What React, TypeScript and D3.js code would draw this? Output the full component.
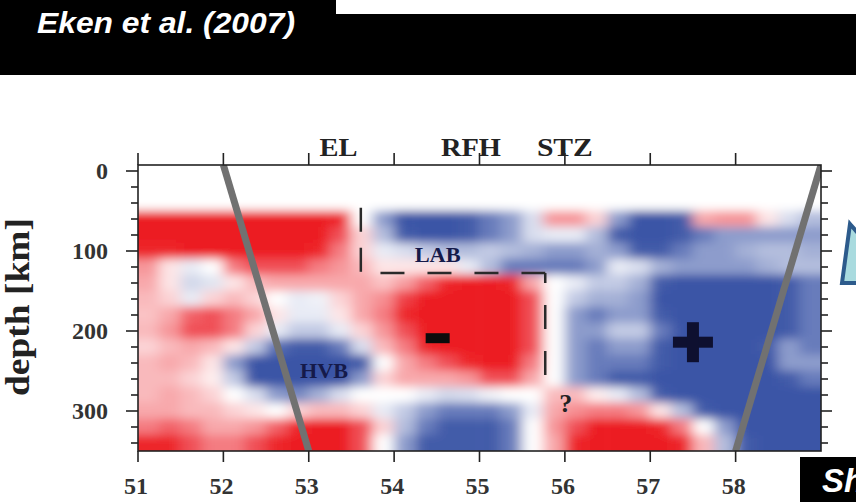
import React from "react";
import * as d3 from "d3";

// ---------- data ----------
const LON_TICKS = [51, 52, 53, 54, 55, 56, 57, 58];
const DEPTH_LABELS = [0, 100, 200, 300];
const DEPTH_TICKS = [0, 20, 40, 60, 80, 100, 120, 140, 160, 180, 200, 220, 240, 260, 280, 300, 320, 340];
const TOP_LABELS = ["EL", "RFH", "STZ"];
const TOP_LABEL_LON = [53.35, 54.9, 56.0];
const TOP_LABEL_LEN = [38, 60, 56];

// grid cell centres
const CELL_LON = [51.125, 51.375, 51.625, 51.875, 52.125, 52.375, 52.625, 52.875, 53.125, 53.375, 53.625, 53.875, 54.125, 54.375, 54.625, 54.875,
  55.125, 55.375, 55.625, 55.875, 56.125, 56.375, 56.625, 56.875, 57.125, 57.375, 57.625, 57.875, 58.125, 58.375, 58.625, 58.875];
const CELL_DEPTH = [0, 20, 40, 60, 80, 100, 120, 140, 160, 180, 200, 220, 240, 260, 280, 300, 320, 340];

// velocity perturbation (-3 strong red / slow ... +3 strong blue / fast)
const DV_ROWS = [
  [0, 0, 0, 0, 0, 0, 0, 0, 0, 0, 0, 0, 0, 0, 0, 0, 0, 0, 0, 0, 0, 0, 0, 0, 0, 0, 0, 0, 0, 0, 0, 0],
  [0, 0, 0, 0, 0, 0, 0, 0, 0, 0, 0, 0, 0, 0, 0, 0, 0, 0, 0, 0, 0, 0, 0, 0, 0, 0, 0, 0, 0, 0, 0, 0],
  [0, 0, 0, 0, 0, 0, 0, 0, 0, 0, 0, 0, 0, 0, 0, 0, 0, 0, 0, 0, 0, 0, 0, 0, 0, 0, 0, 0, 0, 0, 0, 0],
  [-3, -3, -3, -3, -3, -3, -3, -3, -3, -2.5, 0, 1.5, 3, 3, 3, 2.5, 2, 1.5, 0.5, -1.2, -1.2, -0.5, 1.5, 3, 3, 2.5, -1, -1.2, -1.2, -0.3, 0.5, 1],
  [-3, -3, -3, -3, -3, -3, -3, -3, -3, -2, -0.5, 1, 2.5, 3, 3, 2.5, 2, 1.5, 0.5, 0.3, 0.3, 1, 2.5, 3, 3, 2.5, 2, 1.5, 1.5, 1.5, 1.5, 1.5],
  [-2.5, -2.5, -3, -3, -3, -3, -3, -3, -2.5, -1.5, -0.5, 0.3, 0.5, 0.8, 1, 1, 0.8, 1, 1.2, 1.5, 1.5, 1.2, 1.5, 2.5, 2.5, 2, 1.5, 1.5, 1.2, 1, 1, 1.2],
  [-1.2, -0.3, 0.3, 0, -1.5, -2, -2, -2, -1.5, -1.2, -0.8, -0.3, -0.3, -0.3, -0.3, 0.3, 1, 2, 2, 2, 2, 1.5, 0.3, 0.5, 1.2, 1.5, 1.5, 1.5, 1.5, 1.2, 1, 1],
  [-1, -0.3, 0.6, 0.4, -0.3, -0.8, -1, -1, -1, -1, -1, -0.7, -1.1, -1.8, -2.5, -3, -3, -2.5, -1, 0, 0.3, 0.8, 0.8, 1.2, 2.5, 3, 3, 3, 3, 3, 2.5, 2],
  [-0.8, -0.5, 0.3, -0.5, -0.8, -0.5, 0, 0.3, 0.2, -0.5, -1, -1.3, -2.2, -3, -3, -3, -3, -3, -2, 0, 0.8, 1.2, 1.2, 1.5, 3, 3, 3, 3, 3, 3, 2.5, 2],
  [-0.7, -1, -1.8, -2, -1.5, -1, -0.3, 0.3, 0.3, -0.3, -1, -1.5, -2.5, -3, -3, -3, -3, -3, -2, 0, 1.5, 2, 1.5, 1.5, 2.5, 3, 3, 3, 3, 3, 2.5, 2],
  [-0.8, -1.2, -2, -2, -1.5, -0.5, 0.3, 0.8, 0.8, 0.3, -0.5, -1.2, -2, -3, -3, -3, -3, -3, -2, 0, 1.5, 1.5, 0.8, 0.8, 2, 3, 3, 3, 3, 3, 2.5, 2],
  [-0.5, -0.8, -1, -0.8, -0.3, 0.8, 2.2, 2.5, 2.5, 2, 0.5, -0.8, -1.5, -2.5, -3, -3, -3, -3, -2, 0, 1.5, 2, 1.5, 1.5, 2.5, 3, 3, 3, 3, 2.5, 1.5, 2],
  [-0.8, -1, -0.8, -0.3, 1.5, 3, 3, 3, 3, 3, 2.5, 0, -1, -1.5, -2, -2.5, -3, -3, -1.5, 0, 1.5, 2, 2, 2, 2.5, 3, 3, 3, 3, 3, 1.5, 1.5],
  [-0.8, -0.8, -0.5, -0.2, 0.8, 3, 3, 3, 3, 3, 1.5, -0.5, -1, -1, -1, -1.2, -2, -2, -1, 0, 1.5, 2, 2.5, 2.5, 3, 3, 3, 3, 3, 3, 2.5, 2],
  [-0.8, -1, -0.8, -0.5, 0, 0.5, 1.5, 1.8, 1.2, 0.5, 0, 0, 0, 0.3, 0.6, 0.5, 0.2, 0, 0, -0.8, -0.8, -0.2, 0.3, 1, 2.5, 3, 3, 3, 3, 3, 3, 3],
  [-1, -1, -0.8, -0.8, -0.5, -0.3, 0, -0.5, -0.8, -0.8, -0.5, 0.3, 0.8, 1.5, 2, 2, 2, 1.5, 0.3, -1, -1.3, -1.5, -1.5, -1.2, -0.3, 1, 2.5, 3, 3, 3, 3, 3],
  [-1.5, -1.8, -1.5, -1, -1, -1.2, -1.8, -2.5, -3, -3, -2, -0.5, 1, 2, 2.5, 2.5, 2.5, 2, 0, -1.2, -2, -3, -3, -3, -2.5, -1.5, 0, 1.5, 3, 3, 3, 3],
  [-2.5, -2.5, -2, -1.5, -1.5, -2, -2.5, -3, -3, -3, -2, 0, 1.5, 2.5, 2.5, 2.5, 2.5, 2, 0, -1, -2.5, -3, -3, -3, -3, -2.5, -0.8, 1, 2.5, 3, 3, 3],
];

// grey slab lines [lonTop, depthTop, lonBottom, depthBottom]
const SLAB_LINES = [
  [52.0, -7.5, 53.0, 350],
  [59.0, -7.5, 58.0, 350],
];
// dashed box annotation (lon, depth)
const DASH_V1 = [53.61, 46, 53.61, 126];
const DASH_H = [53.84, 127.5, 55.77, 127.5];
const DASH_V2 = [55.77, 127.5, 55.77, 257.5];

const NOTES = [
  { text: "LAB", lon: 54.51, depth: 114, size: 22, len: 46 },
  { text: "HVB", lon: 53.18, depth: 259, size: 22, len: 48 },
  { text: "?", lon: 56.01, depth: 301, size: 26, len: 0 },
];
const MINUS_POS = [54.51, 209];
const PLUS_POS = [57.5, 214];

// ---------- layout ----------
const W = 856, H = 502;
const DEPTH_TOP = -7.5;
const DEPTH_BOTTOM = 350;

const x = d3.scaleLinear().domain([51, 59]).range([138, 821]);
const y = d3.scaleLinear().domain([0, 350]).range([171, 451]);

const redI = d3.interpolateRgb("#ffffff", "#ec1c24");
const blueI = d3.interpolateRgb("#ffffff", "#3a54a6");
const SAT = 2.6;
const color = (v: number) => (v < 0 ? redI(Math.min(1, -v / SAT)) : blueI(Math.min(1, v / SAT)));

const SERIF = "'Liberation Serif', 'DejaVu Serif', serif";
const SANS = "'Liberation Sans', Arial, sans-serif";

export default function App() {
  const left = x(51), right = x(59), top = y(DEPTH_TOP), bottom = y(DEPTH_BOTTOM);
  const halfLon = 0.125, halfDepth = 10;

  const cells: JSX.Element[] = [];
  DV_ROWS.forEach((row, r) => {
    row.forEach((v, c) => {
      let x0 = x(CELL_LON[c] - halfLon), x1 = x(CELL_LON[c] + halfLon);
      let y0 = y(CELL_DEPTH[r] - halfDepth), y1 = y(CELL_DEPTH[r] + halfDepth);
      if (c === 0) x0 = x(50.5);
      if (c === row.length - 1) x1 = x(59.5);
      if (r === 0) y0 = y(-40);
      if (r === DV_ROWS.length - 1) y1 = y(380);
      cells.push(
        <rect key={`${r}-${c}`} x={x0 - 0.3} y={y0 - 0.3} width={x1 - x0 + 0.6} height={y1 - y0 + 0.6} fill={color(v)} />
      );
    });
  });

  const axisColor = "#222";

  return (
    <svg width={W} height={H} style={{ position: "absolute", left: 0, top: 0, background: "#fff" }}>
      <defs>
        <clipPath id="plotClip">
          <rect x={left} y={top} width={right - left} height={bottom - top} />
        </clipPath>
        <filter id="soft" x="-10%" y="-10%" width="120%" height="120%">
          <feGaussianBlur stdDeviation="6.5 5" />
        </filter>
      </defs>

      {/* header band */}
      <rect x={0} y={0} width={W} height={75} fill="#000" />
      <rect x={336} y={0} width={W - 336} height={14} fill="#fff" />
      <text x={37} y={33} fill="#fff" fontFamily={SANS} fontWeight="bold" fontStyle="italic" fontSize={30}
        textLength={258} lengthAdjust="spacingAndGlyphs">Eken et al. (2007)</text>

      {/* heat map */}
      <g clipPath="url(#plotClip)">
        <g filter="url(#soft)">{cells}</g>
        {SLAB_LINES.map((l, i) => (
          <line key={i} x1={x(l[0])} y1={y(l[1])} x2={x(l[2])} y2={y(l[3])} stroke="#717171" strokeWidth={7} />
        ))}
      </g>

      {/* dashed box */}
      <g stroke="#2a2a2a" strokeWidth={2.5} fill="none">
        <line x1={x(DASH_V1[0])} y1={y(DASH_V1[1])} x2={x(DASH_V1[2])} y2={y(DASH_V1[3])} strokeDasharray="24 16" />
        <line x1={x(DASH_H[0])} y1={y(DASH_H[1])} x2={x(DASH_H[2])} y2={y(DASH_H[3])} strokeDasharray="24 23" />
        <line x1={x(DASH_V2[0])} y1={y(DASH_V2[1])} x2={x(DASH_V2[2])} y2={y(DASH_V2[3])} strokeDasharray="24 22" strokeDashoffset={14} />
      </g>

      {/* annotations */}
      {NOTES.map((n, i) => (
        <text key={i} x={x(n.lon)} y={y(n.depth)} textAnchor="middle" fontFamily={SERIF} fontWeight="bold"
          fontSize={n.size} fill={n.text === "?" ? "#222" : "#151a4a"}
          {...(n.len ? { textLength: n.len, lengthAdjust: "spacingAndGlyphs" } : {})}>{n.text}</text>
      ))}
      <rect x={x(MINUS_POS[0]) - 12} y={y(MINUS_POS[1]) - 5} width={24} height={10} fill="#0c0c0c" />
      <rect x={x(PLUS_POS[0]) - 20} y={y(PLUS_POS[1]) - 5.5} width={40} height={11} fill="#0e1030" />
      <rect x={x(PLUS_POS[0]) - 6} y={y(PLUS_POS[1]) - 20} width={12} height={40} fill="#0e1030" />

      {/* frame */}
      <rect x={left} y={top} width={right - left} height={bottom - top} fill="none" stroke={axisColor} strokeWidth={1.6} />

      {/* bottom & top ticks */}
      {LON_TICKS.map((t) => (
        <g key={t}>
          <line x1={x(t)} x2={x(t)} y1={bottom} y2={bottom + 11} stroke={axisColor} strokeWidth={1.6} />
          <line x1={x(t)} x2={x(t)} y1={top} y2={top - 12} stroke={axisColor} strokeWidth={1.6} />
          <text x={x(t) - 2} y={494} textAnchor="middle" fontFamily={SERIF} fontWeight="bold" fontSize={24} fill="#333">{t}</text>
        </g>
      ))}
      {TOP_LABELS.map((s, i) => (
        <text key={s} x={x(TOP_LABEL_LON[i])} y={156} textAnchor="middle" fontFamily={SERIF} fontWeight="bold" fontSize={25}
          fill="#222" textLength={TOP_LABEL_LEN[i]} lengthAdjust="spacingAndGlyphs">{s}</text>
      ))}

      {/* left & right ticks */}
      {DEPTH_TICKS.map((d) => {
        const major = DEPTH_LABELS.includes(d);
        return (
          <g key={d}>
            <line x1={left} x2={left - (major ? 12 : 7)} y1={y(d)} y2={y(d)} stroke={axisColor} strokeWidth={1.6} />
            <line x1={right} x2={right + (major ? 11 : 7)} y1={y(d)} y2={y(d)} stroke={axisColor} strokeWidth={1.6} />
          </g>
        );
      })}
      {DEPTH_LABELS.map((d) => (
        <text key={d} x={108} y={y(d) + 8} textAnchor="end" fontFamily={SERIF} fontWeight="bold" fontSize={24} fill="#333">{d}</text>
      ))}
      <text transform="translate(29,307) rotate(-90)" textAnchor="middle" fontFamily={SERIF} fontWeight="bold" fontSize={34}
        fill="#222" textLength={178} lengthAdjust="spacingAndGlyphs">depth [km]</text>

      {/* slide decorations */}
      <polygon points="850,224 864,240 864,283 842,283" fill="#a9dbdf" stroke="#2d5b8c" strokeWidth={4} strokeLinejoin="miter" />
      <rect x={800} y={457} width={56} height={45} fill="#000" />
      <text x={822} y={492} fill="#fff" fontFamily={SANS} fontWeight="bold" fontStyle="italic" fontSize={33}>Sh</text>
    </svg>
  );
}
